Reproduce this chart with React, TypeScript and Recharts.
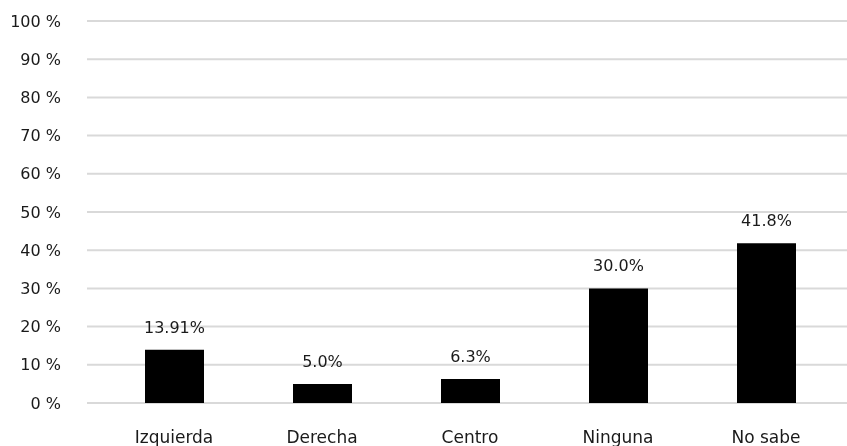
import { BarChart, Bar, XAxis, YAxis, CartesianGrid, LabelList } from "recharts";

const categories = ["Izquierda", "Derecha", "Centro", "Ninguna", "No sabe"];
const values = [13.91, 5.0, 6.3, 30.0, 41.8];
const valueLabels = ["13.91%", "5.0%", "6.3%", "30.0%", "41.8%"];
const yTicks = [0, 10, 20, 30, 40, 50, 60, 70, 80, 90, 100];

const data = categories.map((name, i) => ({
    name,
    value: values[i],
    label: valueLabels[i],
}));

const font = "'DejaVu Sans', sans-serif";
const textStyle = { fill: "#1a1a1a", fontSize: 16, fontFamily: font };

export default function App() {
    return (
        <div style={{ position: "fixed", top: 0, left: 0, width: 847, height: 446, fontFamily: font }}>
            <BarChart
                width={847}
                height={446}
                data={data}
                margin={{ top: 21, right: 0, bottom: 0, left: 0 }}
            >
                <CartesianGrid vertical={false} stroke="#d9d9d9" strokeWidth={2} />
                <XAxis
                    dataKey="name"
                    axisLine={false}
                    tickLine={false}
                    tickSize={0}
                    tickMargin={28}
                    height={43}
                    padding={{ left: 13, right: 7 }}
                    tick={{ ...textStyle, fontSize: 17 }}
                />
                <YAxis
                    domain={[0, 100]}
                    ticks={yTicks}
                    width={87}
                    axisLine={false}
                    tickLine={false}
                    tickSize={0}
                    tickMargin={26}
                    tickFormatter={(v: number) => `${v} %`}
                    tick={textStyle}
                />
                <Bar dataKey="value" fill="#000000" barSize={59} isAnimationActive={false}>
                    <LabelList dataKey="label" position="top" offset={17} style={textStyle} />
                </Bar>
            </BarChart>
        </div>
    );
}
